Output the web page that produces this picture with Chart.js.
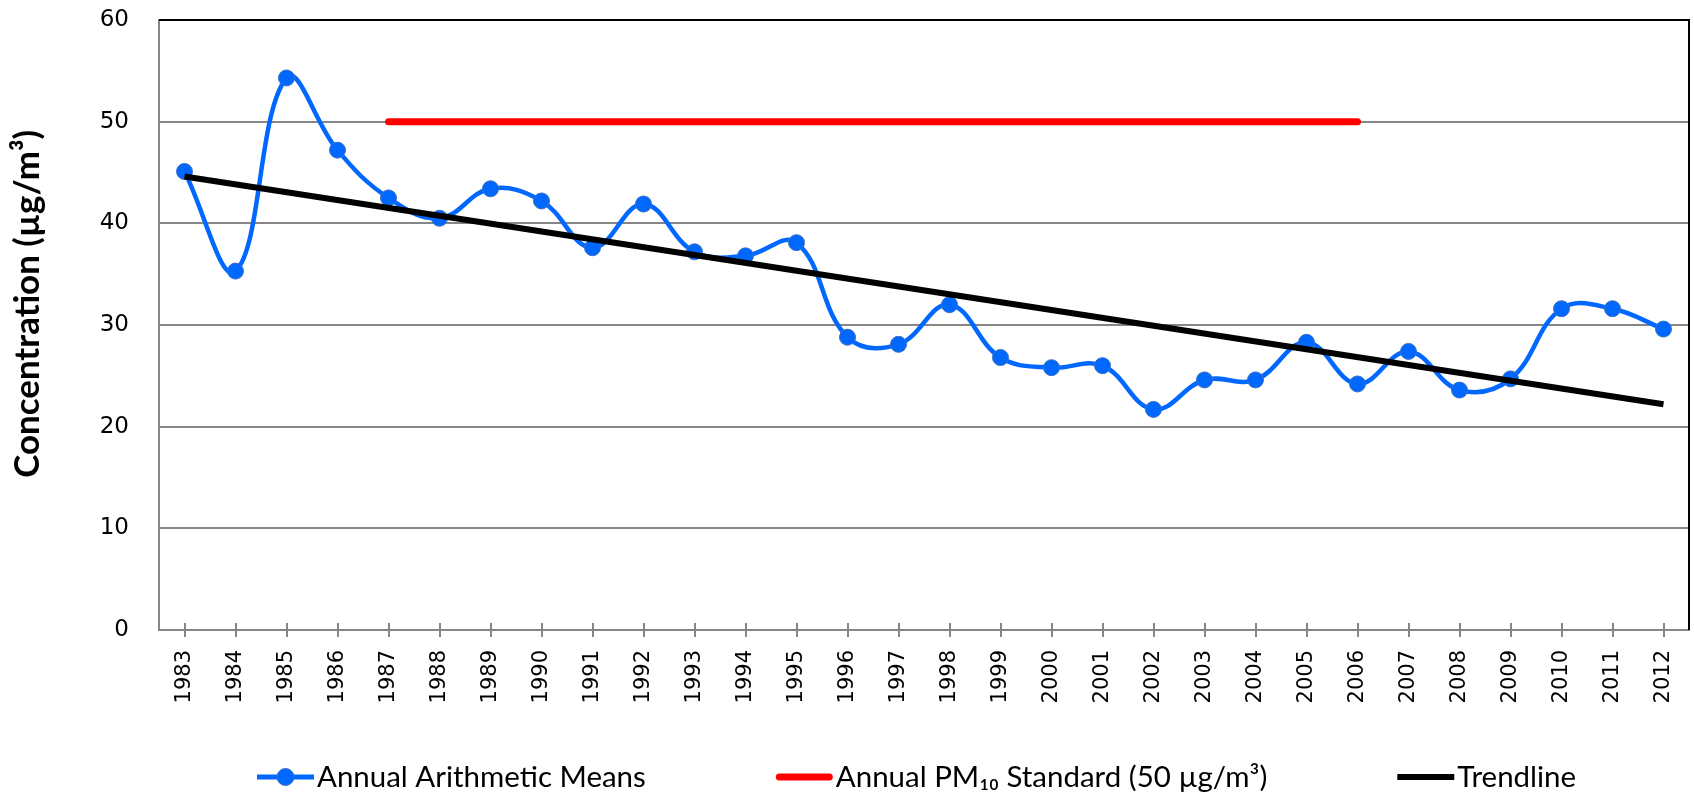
<!DOCTYPE html>
<html><head><meta charset="utf-8">
<script src="https://cdn.jsdelivr.net/npm/chart.js@4.4.0/dist/chart.umd.min.js"></script>
<style>html,body{margin:0;padding:0;background:#fff;overflow:hidden}canvas{display:block}</style>
</head><body><canvas id="c" width="1694" height="793"></canvas>
<script>
// ---- data ----
const years = ['1983','1984','1985','1986','1987','1988','1989','1990','1991','1992','1993','1994','1995','1996','1997','1998','1999','2000','2001','2002','2003','2004','2005','2006','2007','2008','2009','2010','2011','2012'];
const annualMeans = [45.1, 35.3, 54.3, 47.2, 42.5, 40.5, 43.4, 42.2, 37.6, 41.9, 37.2, 36.8, 38.1, 28.8, 28.1, 32.0, 26.8, 25.8, 26.0, 21.7, 24.6, 24.6, 28.3, 24.2, 27.4, 23.6, 24.7, 31.6, 31.6, 29.6];
const pm10Standard = [null, null, null, null, 50, 50, 50, 50, 50, 50, 50, 50, 50, 50, 50, 50, 50, 50, 50, 50, 50, 50, 50, 50, null, null, null, null, null, null];
const trendline = [44.6, null, null, null, null, null, null, null, null, null, null, null, null, null, null, null, null, null, null, null, null, null, null, null, null, null, null, null, null, 22.2];
const yTickValues = [0, 10, 20, 30, 40, 50, 60];
const seriesNames = ['Annual Arithmetic Means', 'Annual PM\u2081\u2080 Standard (50 \u00b5g/m\u00b3)', 'Trendline'];
const yAxisTitle = 'Concentration (\u00b5g/m\u00b3)';

// ---- layout / style ----
const W = 1694, H = 793;
const PLOT = {left: 159, right: 1689, top: 20, bottom: 630};
const BLUE = '#0068ff';
const FAMILY = 'Lato, "Open Sans", sans-serif';
const TICKFAMILY = '"DejaVu Sans", Verdana, sans-serif';
const mctx = document.createElement('canvas').getContext('2d');
function textW(t, font) { mctx.font = font; return mctx.measureText(t).width; }
const legendFs = 100 * 329 / textW(seriesNames[0], '100px ' + FAMILY);
const titleFs = Math.min(36, 100 * 348 / textW(yAxisTitle, 'bold 100px ' + FAMILY));
const LEG_PAD = 10;
const LEG_GAP = 190;
const boxW = LEG_GAP - LEG_PAD - legendFs / 2;
const legendTextStart1 = 317;
const legendRowCenter = 777;
const spaceW = textW(' ', 'bold ' + titleFs + 'px ' + FAMILY);
const titleText = ' '.repeat(Math.max(0, Math.round(46 / spaceW))) + yAxisTitle;
const legendLineW = [5, 7, 6];

const decor = {
  id: 'decor',
  afterLayout(chart) {
    const lg = chart.legend; if (!lg) return;
    const shift = (legendTextStart1 - boxW - legendFs / 2 - LEG_PAD) - lg.left;
    lg.left += shift; lg.right += shift;
    const top = legendRowCenter - LEG_PAD - legendFs / 2;
    const dy = top - lg.top; lg.top += dy; lg.bottom += dy;
  },
  afterDraw(chart) {
    const c = chart.ctx, a = chart.chartArea, xs = chart.scales.x;
    c.save();
    c.strokeStyle = '#868686'; c.lineWidth = 2; c.beginPath();
    xs.ticks.forEach((t, i) => { const x = Math.round(xs.getPixelForTick(i)); c.moveTo(x, a.bottom - 7); c.lineTo(x, a.bottom); });
    c.stroke();
    c.strokeStyle = '#000'; c.lineWidth = 2; c.beginPath();
    c.moveTo(a.left, a.top); c.lineTo(a.right, a.top); c.lineTo(a.right, a.bottom); c.stroke();
    const lg = chart.legend;
    if (lg && lg.legendHitBoxes) {
      lg.legendHitBoxes.forEach((hb, i) => {
        const di = lg.legendItems[i].datasetIndex;
        const ds = chart.data.datasets[di];
        const ts = hb.left + boxW + legendFs / 2;
        const y = hb.top + hb.height / 2;
        let x1 = ts - 60, x2 = ts - 3;
        c.strokeStyle = ds.borderColor; c.lineWidth = legendLineW[di];
        c.lineCap = di === 1 ? 'round' : 'butt';
        if (di === 1) { x1 += 3.5; x2 -= 3.5; }
        c.beginPath(); c.moveTo(x1, y); c.lineTo(x2, y); c.stroke();
        if (di === 0) {
          c.beginPath(); c.arc((x1 + x2) / 2, y, 8.5, 0, 2 * Math.PI);
          c.fillStyle = ds.pointBackgroundColor; c.fill();
          c.lineWidth = 1; c.strokeStyle = ds.pointBorderColor; c.stroke();
        }
      });
    }
    c.restore();
  }
};

new Chart(document.getElementById('c').getContext('2d'), {
  type: 'line',
  data: {
    labels: years,
    datasets: [
      {label: seriesNames[0], data: annualMeans, borderColor: BLUE, backgroundColor: BLUE, borderWidth: 4.5, tension: 0.4,
       pointRadius: 8, pointHoverRadius: 8, pointBackgroundColor: BLUE, pointBorderColor: '#3d6fc0', pointBorderWidth: 1, order: 2, fill: false},
      {label: seriesNames[1], data: pm10Standard, borderColor: '#ff0000', backgroundColor: '#ff0000', borderWidth: 7, borderCapStyle: 'round',
       pointRadius: 0, pointHoverRadius: 0, tension: 0, order: 3, fill: false},
      {label: seriesNames[2], data: trendline, borderColor: '#000000', backgroundColor: '#000000', borderWidth: 6, pointRadius: 0, pointHoverRadius: 0,
       tension: 0, spanGaps: true, order: 1, fill: false}
    ]
  },
  options: {
    responsive: false, animation: false, devicePixelRatio: 1,
    layout: {autoPadding: false, padding: {left: 0, right: W - PLOT.right, top: PLOT.top, bottom: 0}},
    plugins: {
      tooltip: {enabled: false},
      legend: {
        position: 'bottom', align: 'start',
        labels: {
          color: '#000', font: {family: FAMILY, size: legendFs}, boxWidth: boxW, boxHeight: 4, padding: LEG_PAD,
          sort: (a, b) => a.datasetIndex - b.datasetIndex,
          generateLabels(chart) {
            const items = Chart.defaults.plugins.legend.labels.generateLabels(chart);
            items.forEach(it => { it.fillStyle = 'rgba(0,0,0,0)'; it.strokeStyle = 'rgba(0,0,0,0)'; it.lineWidth = 0; });
            return items;
          }
        }
      }
    },
    scales: {
      x: {
        type: 'category', offset: true,
        grid: {display: true, drawOnChartArea: false, drawTicks: true, tickLength: 7, color: '#868686', lineWidth: 2, offset: false},
        border: {display: true, color: '#868686', width: 2},
        ticks: {autoSkip: false, maxRotation: 90, minRotation: 90, padding: 13, color: '#000', font: {family: TICKFAMILY, size: 21}},
        afterFit(s) { s.height = H - PLOT.bottom - (s.chart.legend ? s.chart.legend.height : 0); s.paddingLeft = 0; s.paddingRight = 0; }
      },
      y: {
        min: yTickValues[0], max: yTickValues[yTickValues.length - 1],
        afterBuildTicks(s) { s.ticks = yTickValues.map(v => ({value: v})); },
        ticks: {padding: 30, color: '#000', font: {family: TICKFAMILY, size: 23}},
        grid: {color: '#868686', lineWidth: 2, drawTicks: false},
        border: {display: true, color: '#868686', width: 2},
        title: {display: true, text: titleText, color: '#000', font: {family: FAMILY, size: titleFs, weight: 'bold'},
                padding: {top: 28 - 0.6 * titleFs, bottom: 0}},
        afterFit(s) { s.width = PLOT.left; s.paddingTop = 0; s.paddingBottom = 0; }
      }
    }
  },
  plugins: [decor]
});
</script>
</body></html>
